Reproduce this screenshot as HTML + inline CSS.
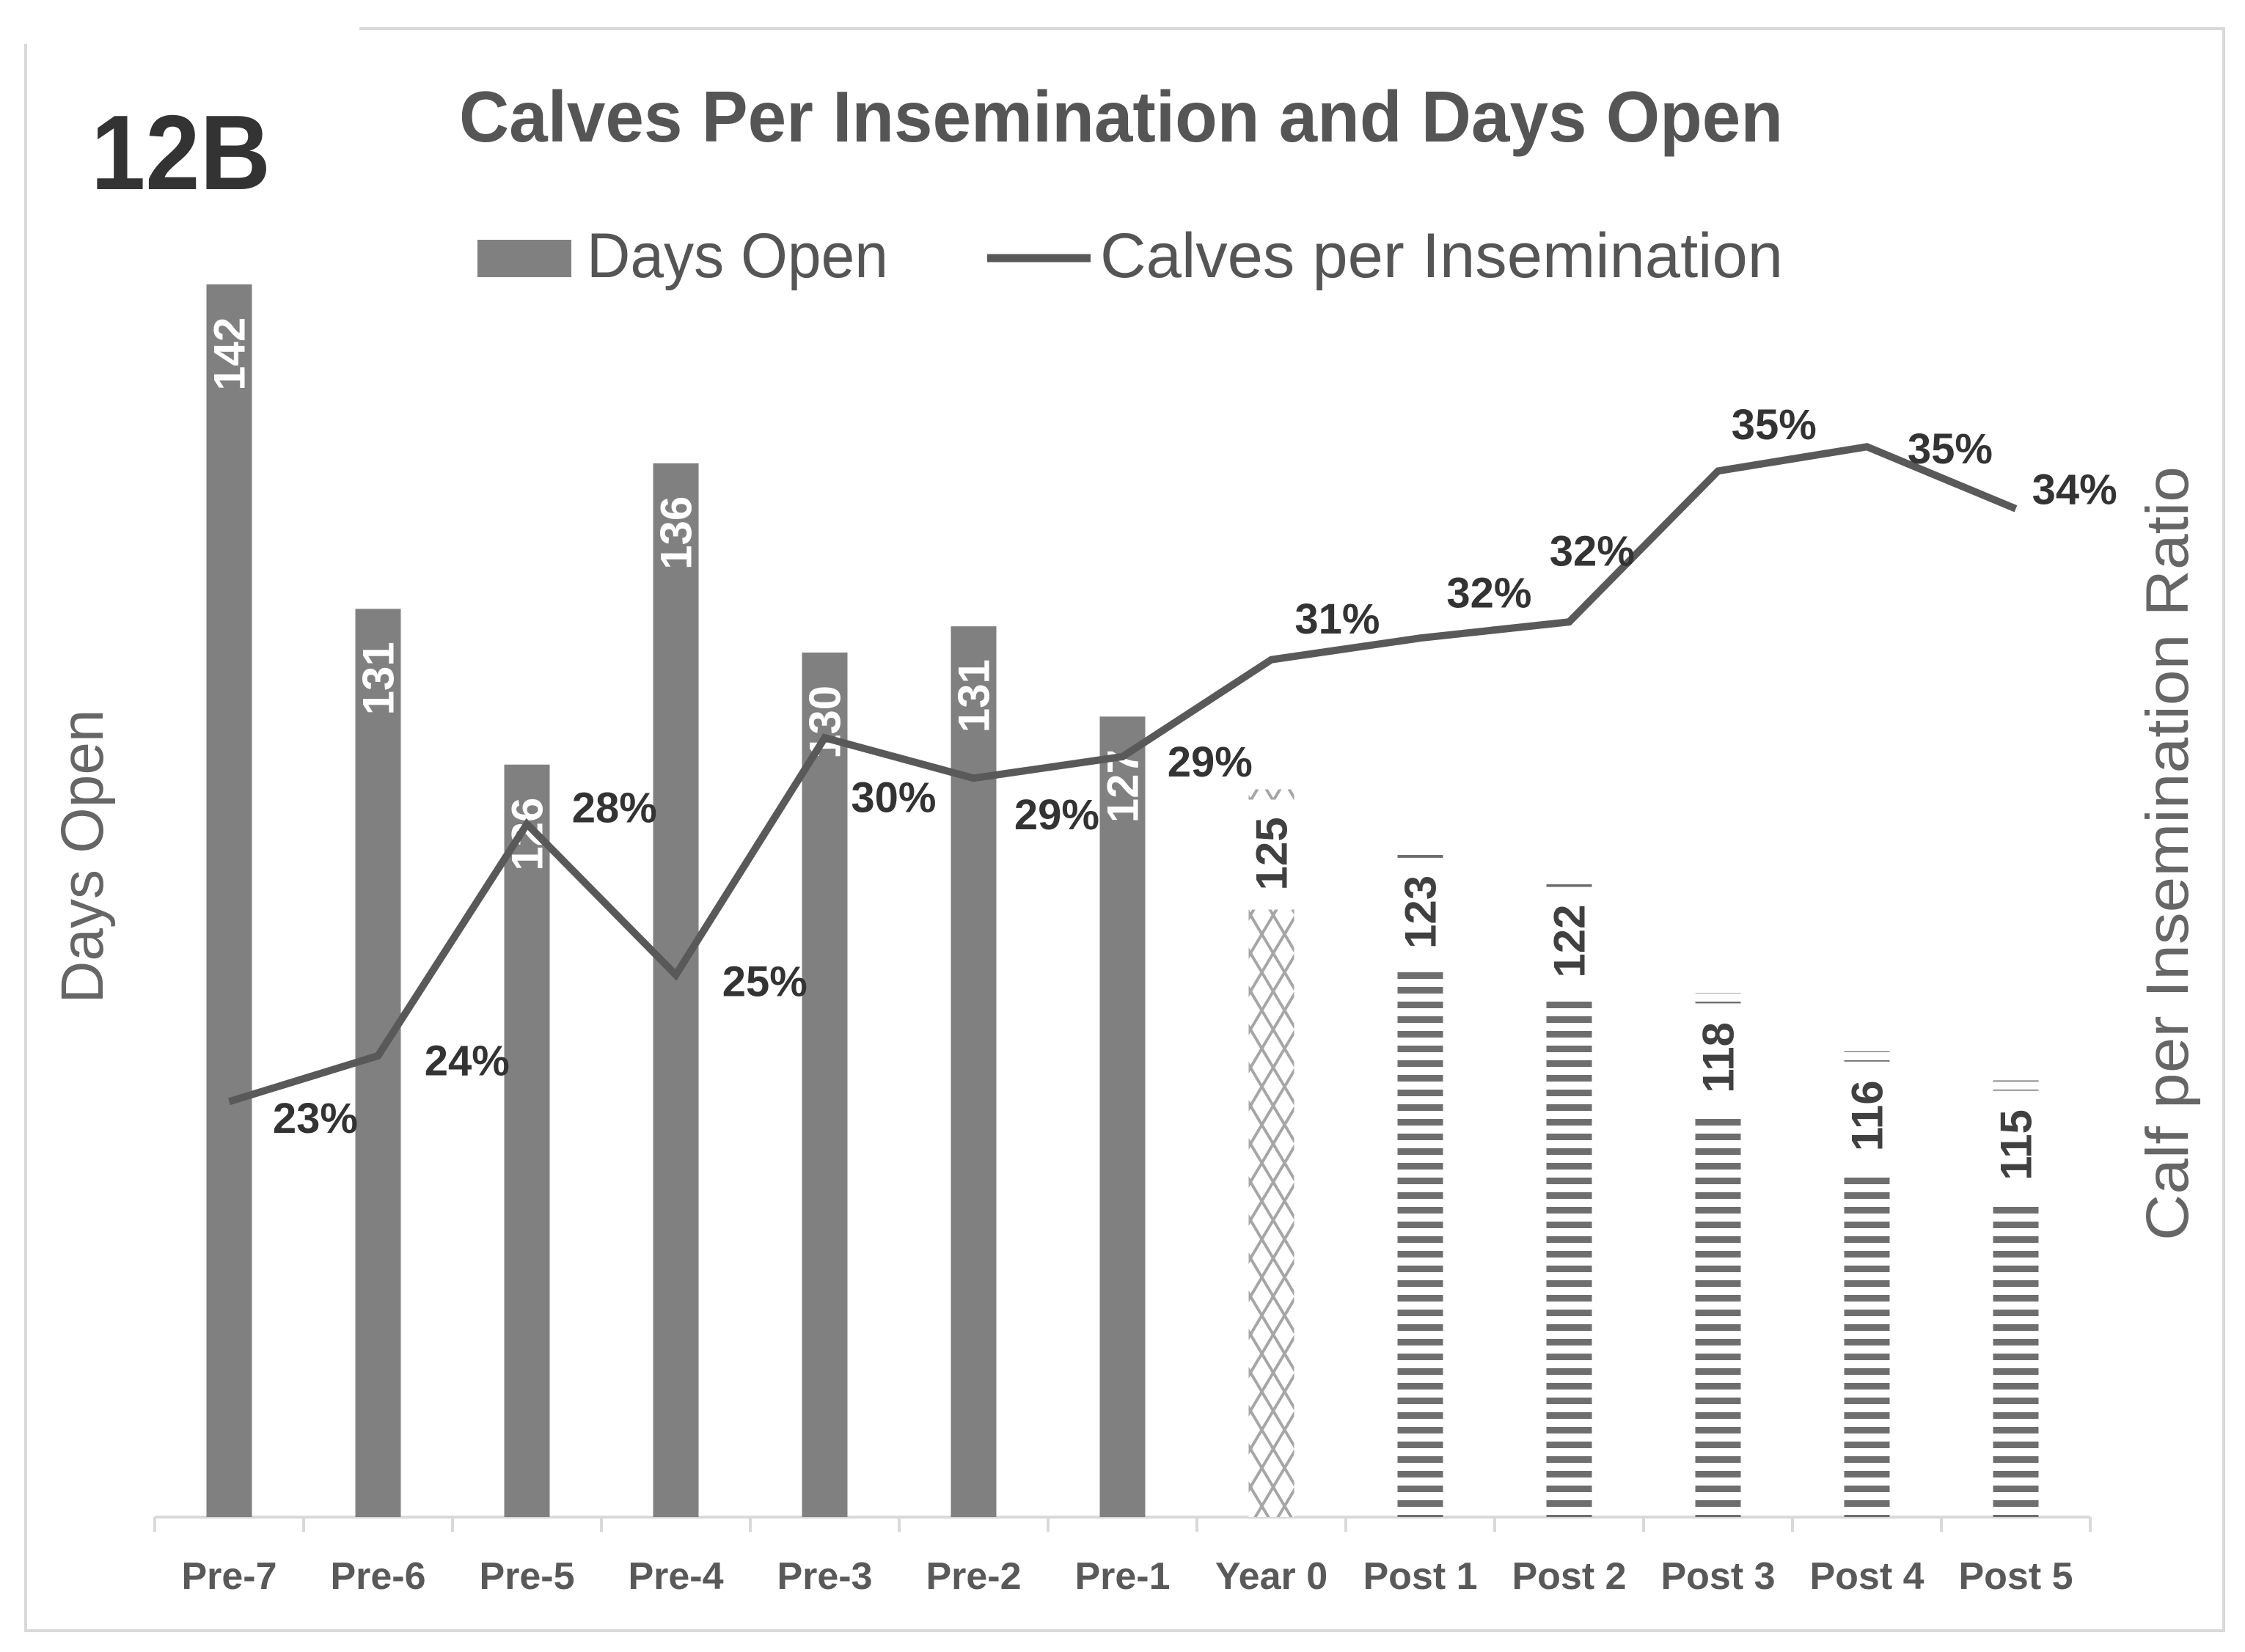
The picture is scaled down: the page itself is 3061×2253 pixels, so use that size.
<!DOCTYPE html>
<html><head><meta charset="utf-8"><style>
html,body{margin:0;padding:0;background:#fff;}
svg{display:block;font-family:"Liberation Sans",sans-serif;}
</style></head><body>
<svg id="chart" width="3061" height="2253" viewBox="0 0 3061 2253" xmlns="http://www.w3.org/2000/svg">
<defs>
<pattern id="stripes" patternUnits="userSpaceOnUse" width="20" height="20">
<rect x="0" y="0" width="20" height="20" fill="#fff"/>
<rect x="0" y="6" width="20" height="9" fill="#6e6e6e"/>
</pattern>
<pattern id="cross" patternUnits="userSpaceOnUse" width="31" height="52">
<rect width="31" height="52" fill="#fff"/>
<path d="M0 0 L31 52 M31 0 L0 52" stroke="#a6a6a6" stroke-width="4" fill="none"/>
</pattern>
</defs>
<path d="M490 39 L3032 39 L3032 2224 L35 2224 L35 60" fill="none" stroke="#d9d9d9" stroke-width="4"/>
<text x="124" y="258" font-size="145" font-weight="bold" fill="#333" textLength="245" lengthAdjust="spacingAndGlyphs">12B</text>
<text x="626" y="193" font-size="98" font-weight="bold" fill="#555" textLength="1805" lengthAdjust="spacingAndGlyphs">Calves Per Insemination and Days Open</text>
<g>
<rect x="651" y="327" width="128" height="51" fill="#808080"/>
<text x="800" y="378" font-size="86" fill="#555" textLength="411" lengthAdjust="spacingAndGlyphs">Days Open</text>
<line x1="1346" y1="352" x2="1487" y2="352" stroke="#595959" stroke-width="11"/>
<text x="1500" y="378" font-size="86" fill="#555" textLength="931" lengthAdjust="spacingAndGlyphs">Calves per Insemination</text>
</g>
<text transform="translate(140,1168) rotate(-90)" text-anchor="middle" font-size="82" fill="#666" textLength="401" lengthAdjust="spacingAndGlyphs">Days Open</text>
<text transform="translate(2983,1164) rotate(-90)" text-anchor="middle" font-size="82" fill="#666" textLength="1056" lengthAdjust="spacingAndGlyphs">Calf per Insemination Ratio</text>
<g id="plot"></g>
</svg>
<script>
const categories = ["Pre-7","Pre-6","Pre-5","Pre-4","Pre-3","Pre-2","Pre-1","Year 0","Post 1","Post 2","Post 3","Post 4","Post 5"];
const daysOpen = [142.35,131.2,125.85,136.2,129.7,130.6,127.5,125,123,122,118,116,115];
const daysOpenLabels = ["142","131","126","136","130","131","127","125","123","122","118","116","115"];
const calvesPerInsem = [23.0,23.85,28.15,25.35,29.75,29.0,29.4,31.2,31.6,31.9,34.7,35.15,34.0];
const calvesLabels = ["23%","24%","28%","25%","30%","29%","29%","31%","32%","32%","35%","35%","34%"];
const barStyle = ["solid","solid","solid","solid","solid","solid","solid","cross","stripes","stripes","stripes","stripes","stripes"];
const labelOffsets = [[60,11],[62,3],[61,-12],[62,4],[48,41],[58,25],[61,3],[46,-29],[48,-32],[16,-50],[39,-33],[58,1],[41,-14]];

const NS = "http://www.w3.org/2000/svg";
const plot = document.getElementById('plot');
const x0 = 211, x1 = 2850, base = 2069;
const bw = (x1 - x0) / categories.length;
function xC(i){ return x0 + bw * (i + 0.5); }
function yL(v){ return base - (v - 100) * 39.7; }
function yR(v){ return base - (v - 15.29) * 73.5; }
function mk(tag, attrs){ const e = document.createElementNS(NS, tag); for (const k in attrs) e.setAttribute(k, attrs[k]); plot.appendChild(e); return e; }

const axis = mk('line', {x1:x0, y1:base, x2:x1, y2:base, stroke:'#d9d9d9', 'stroke-width':4});


for (let i = 0; i <= categories.length; i++) {
  const t = mk('line', {x1:x0 + bw*i, y1:base, x2:x0 + bw*i, y2:base + 20, stroke:'#d9d9d9', 'stroke-width':4});
  
  
}
const BW = 62;
categories.forEach((c, i) => {
  const cx = xC(i), top = yL(daysOpen[i]);
  const st = barStyle[i];
  const fill = st === 'solid' ? '#808080' : (st === 'cross' ? 'url(#cross)' : 'url(#stripes)');
  const b = mk('rect', {x:cx - BW/2, y:top, width:BW, height:base - top, fill:fill});
  
  
  let ly;
  if (st === 'solid') {
    ly = top + 95;
  } else {
    ly = top + 88;
    const gap = mk('rect', {x:cx - BW/2 - 2, y:top + 14, width:BW + 4, height:150, fill:'#fff'});
    
    
  }
  const t = mk('text', {transform:'translate(' + (cx + 21) + ',' + ly + ') rotate(-90)', 'text-anchor':'middle', 'font-size':60, 'font-weight':'bold', fill: st === 'solid' ? '#fff' : '#404040'});
  t.textContent = daysOpenLabels[i];
  
  
  const xl = mk('text', {x:cx, y:2167, 'text-anchor':'middle', 'font-size':52, 'font-weight':'bold', fill:'#595959'});
  xl.textContent = c;
  
  
});
const pts = calvesPerInsem.map((v, i) => xC(i) + ',' + yR(v)).join(' ');
const line = mk('polyline', {points:pts, fill:'none', stroke:'#595959', 'stroke-width':10, 'stroke-linejoin':'miter'});


calvesPerInsem.forEach((v, i) => {
  const o = labelOffsets[i];
  const t = mk('text', {x:xC(i) + o[0]*1.956, y:yR(v) + o[1]*1.956 + 21, 'text-anchor':'middle', 'font-size':58, 'font-weight':'bold', fill:'#333'});
  t.textContent = calvesLabels[i];
  
  
});
</script>
</body></html>
